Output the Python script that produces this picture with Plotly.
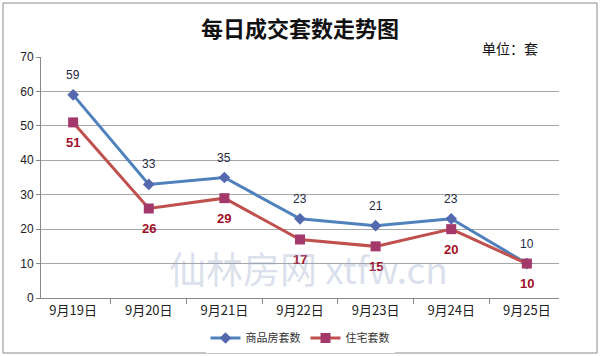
import plotly.graph_objects as go

categories = ["9月19日", "9月20日", "9月21日", "9月22日", "9月23日", "9月24日", "9月25日"]
commercial = [59, 33, 35, 23, 21, 23, 10]
residential = [51, 26, 29, 17, 15, 20, 10]
y_ticks = [0, 10, 20, 30, 40, 50, 60, 70]

W, H = 600, 356
L, R, T, B = 41, 41, 57, 58
pw, ph = W - L - R, H - T - B

fig = go.Figure()
fig.add_trace(go.Scatter(
    x=categories, y=commercial, name="商品房套数", mode="lines+markers",
    line=dict(color="#4F81BD", width=3),
    marker=dict(symbol="diamond", size=9, color="#5468AE"),
))
fig.add_trace(go.Scatter(
    x=categories, y=residential, name="住宅套数", mode="lines+markers",
    line=dict(color="#C0504D", width=3),
    marker=dict(symbol="square", size=10, color="#A3386A"),
))

for c, v in zip(categories, commercial):
    fig.add_annotation(x=c, y=v, text=str(v), showarrow=False, yshift=20,
                       font=dict(family="Arial", size=12, color="#1F2A44"))
for c, v in zip(categories, residential):
    fig.add_annotation(x=c, y=v, text="<b>%d</b>" % v, showarrow=False, yshift=-20,
                       font=dict(family="Arial", size=13, color="#A01028"))

fig.update_layout(
    width=W, height=H,
    margin=dict(l=L, r=R, t=T, b=B, autoexpand=False),
    paper_bgcolor="white", plot_bgcolor="white",
    showlegend=True,
    legend=dict(orientation="h", x=0.5, xanchor="center", y=-(338 - 298) / ph, yanchor="middle",
                font=dict(family="Noto Sans CJK SC", size=11, color="#333")),
    font=dict(family="Arial", color="#222"),
    title=dict(text="<b>每日成交套数走势图</b>", x=0.5, xanchor="center", y=1 - 29 / H, yanchor="middle",
               font=dict(family="Noto Sans CJK SC", size=22, color="#111")),
    xaxis=dict(type="category", showgrid=False, showline=True, linecolor="#888", linewidth=1,
               ticks="outside", tickson="boundaries", ticklen=5, tickcolor="#888",
               tickfont=dict(family="Noto Sans CJK SC", size=13, color="#222")),
    yaxis=dict(range=[0, 70], tickvals=y_ticks, showgrid=True, gridcolor="#A6A6A6", gridwidth=1,
               showline=True, linecolor="#888", linewidth=1, ticks="outside", ticklen=4,
               tickcolor="#888", zeroline=False,
               tickfont=dict(family="Arial", size=12, color="#222")),
)

fig.add_annotation(text="单位：套", xref="paper", yref="paper",
                   x=(510 - L) / pw, y=(H - 48 - B) / ph, xanchor="center", yanchor="middle",
                   showarrow=False, font=dict(family="Noto Sans CJK SC", size=14, color="#111"))
fig.add_annotation(text="仙林房网 xtfw.cn", xref="paper", yref="paper",
                   x=(308 - L) / pw, y=(H - 268 - B) / ph, xanchor="center", yanchor="middle",
                   showarrow=False,
                   font=dict(family="Noto Sans CJK SC", size=37, color="rgba(150,165,200,0.35)"))
fig.add_shape(type="rect", xref="paper", yref="paper",
              x0=(3 - L) / pw, x1=(597 - L) / pw, y0=-(353 - T - ph) / ph, y1=1 + (T - 3) / ph,
              line=dict(color="#8C8C8C", width=1), fillcolor="rgba(0,0,0,0)", layer="below")

fig.write_html("out.html", config={"displayModeBar": False},
               post_script="document.body.style.margin='0';")
